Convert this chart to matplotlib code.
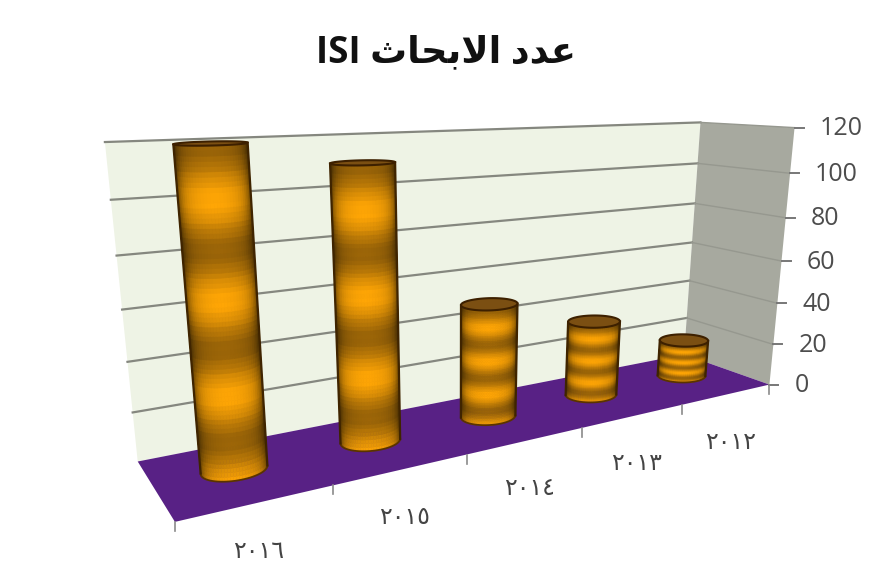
import numpy as np
import matplotlib
matplotlib.use('Agg')
import matplotlib.pyplot as plt
from matplotlib.collections import PolyCollection

# data
years = ['٢٠١٦', '٢٠١٥', '٢٠١٤', '٢٠١٣', '٢٠١٢']
values = [120, 111, 50, 35, 18]
ticks = [0, 20, 40, 60, 80, 100, 120]
title = 'ISI \uFE99\uFE8E\uFEA4\uFE91\uFEFB\uFE8D \uFEA9\uFEAA\uFECB'  # glyphs in drawing order

zmax = 120.0

# camera fit: (x along categories, depth, value) -> pixel
calib = [(0, 0, 0, 175, 518), (1, 0, 0, 768, 380), (0, 1, 0, 137, 460), (1, 1, 0, 685, 355),
         (0, 1, 120, 105, 142), (1, 1, 120, 700, 123), (1, 0, 120, 795, 127),
         (.2, 0, 0, 333, 488), (.4, 0, 0, 467, 457), (.6, 0, 0, 582, 430), (.8, 0, 0, 682, 407)]
rows = []
for X, Y, Z, u, v in calib:
    p = [X, Y, Z / zmax, 1]
    rows.append(p + [0, 0, 0, 0] + [-u * c for c in p])
    rows.append([0, 0, 0, 0] + p + [-v * c for c in p])
P = np.linalg.svd(np.array(rows))[2][-1].reshape(3, 4)

def proj(x, y, z):
    x, y, z = np.broadcast_arrays(np.asarray(x, float), np.asarray(y, float), np.asarray(z, float))
    pts = np.stack([x, y, z / zmax, np.ones(x.shape)], axis=-1)
    q = pts @ P.T
    return q[..., :2] / q[..., 2:3]

fig = plt.figure(figsize=(8.86, 5.81), dpi=100)
ax = fig.add_axes([0, 0, 1, 1])
ax.set_xlim(0, 886)
ax.set_ylim(581, 0)
ax.axis('off')

def face(xs, ys, zs, color, z=1):
    ax.fill(*proj(xs, ys, zs).T, color=color, lw=0, zorder=z)

face([0, 1, 1, 0], [1, 1, 1, 1], [0, 0, 120, 120], '#eef3e5')
face([1, 1, 1, 1], [1, 0, 0, 1], [0, 0, 120, 120], '#a7a99f')
face([0, 1, 1, 0], [0, 0, 1, 1], [0, 0, 0, 0], '#582185', 2)

grey = '#85877f'
for t in ticks:
    if t > 0:
        ax.plot(*proj([0, 1], [1, 1], [t, t]).T, color=grey, lw=1.6, zorder=3)
        ax.plot(*proj([1, 1], [1, 0], [t, t]).T, color='#96988f', lw=1.0, zorder=3)
    e = proj(1, 0, t)
    ax.plot([e[0], e[0] + 9], [e[1], e[1]], color='#777777', lw=1.4, zorder=3)
    ax.text(e[0] + 25, e[1] + 1, str(t), family='Open Sans', fontsize=18, color='#4d4d4d',
            ha='left', va='center')

for i in range(6):
    e = proj(i / 5, 0, 0)
    ax.plot([e[0], e[0]], [e[1], e[1] + 9], color='#8a8a8a', lw=1.2, zorder=3)
for i, y in enumerate(years):
    a, b = proj(i / 5, 0, 0), proj((i + 1) / 5, 0, 0)
    ax.text((a[0] + b[0]) / 2 + 5, (a[1] + b[1]) / 2 + 47, y, family='DejaVu Sans', fontsize=17,
            color='#444444', ha='center', va='center')

# cylinders
rx, ry = 0.044, 0.18
th = np.linspace(0, 2 * np.pi, 73)

def band(t):
    return 0.5 + 0.5 * np.cos(2 * np.pi * (t - 0.27) / 0.29)

for i, val in enumerate(values):
    cx = (i + 0.5) / 5 + 0.006
    circle_x = cx + rx * np.cos(th)
    circle_y = 0.55 + ry * np.sin(th)
    nz = 70
    zs = np.linspace(0, val, nz + 1)
    polys, cols, depth = [], [], []
    bright = np.array([1.0, 0.65, 0.02])
    dark = np.array([0.6, 0.39, 0.03])
    for k in range(nz):
        t = (k + 0.5) / nz
        low = proj(circle_x, circle_y, zs[k])
        high = proj(circle_x, circle_y, zs[k + 1])
        mid_x = (low[:, 0].min() + low[:, 0].max()) / 2
        half = (low[:, 0].max() - low[:, 0].min()) / 2
        b = band(t) + 0.03 * np.cos(2 * np.pi * t * 24)
        base = dark + (bright - dark) * np.clip(b, 0, 1)
        for j in range(len(th) - 1):
            u = abs((low[j, 0] + low[j + 1, 0]) / 2 - mid_x) / half
            shade = 1 - 0.22 * u ** 2 - 0.4 * u ** 7
            polys.append([low[j], low[j + 1], high[j + 1], high[j]])
            cols.append(base * shade)
            depth.append(circle_y[j] + circle_y[j + 1] - k * 1e-4)
    order = np.argsort(depth)[::-1]
    ax.add_collection(PolyCollection([polys[o] for o in order], facecolors=[cols[o] for o in order],
                                     edgecolors='face', linewidths=0.4, zorder=5 + i))
    low = proj(circle_x, circle_y, 0)
    high = proj(circle_x, circle_y, val)
    # base rim only between the two side tangents, then silhouette and lid
    imin, imax = np.argmin(low[:, 0]), np.argmax(low[:, 0])
    a, b = sorted((imin, imax))
    rim = low[a:b + 1] if np.sin(th[(a + b) // 2]) < 0 else np.vstack([low[b:-1], low[:a + 1]])
    ax.plot(rim[:, 0], rim[:, 1], color='#5a3300', lw=1.3, zorder=5 + i)
    for pick in (np.argmin, np.argmax):
        ax.plot([low[pick(low[:, 0]), 0], high[pick(high[:, 0]), 0]],
                [low[pick(low[:, 0]), 1], high[pick(high[:, 0]), 1]], color='#3f2400', lw=1.6, zorder=5 + i)
    ax.fill(high[:, 0], high[:, 1], facecolor='#7b4f12', edgecolor='#3d2000', lw=1.5, zorder=5 + i)

ax.text(446, 52, title, family=['Open Sans', 'DejaVu Sans'], fontweight='bold', fontsize=26.5,
        color='#111111', ha='center', va='center')

fig.savefig('out.png', dpi=100)
